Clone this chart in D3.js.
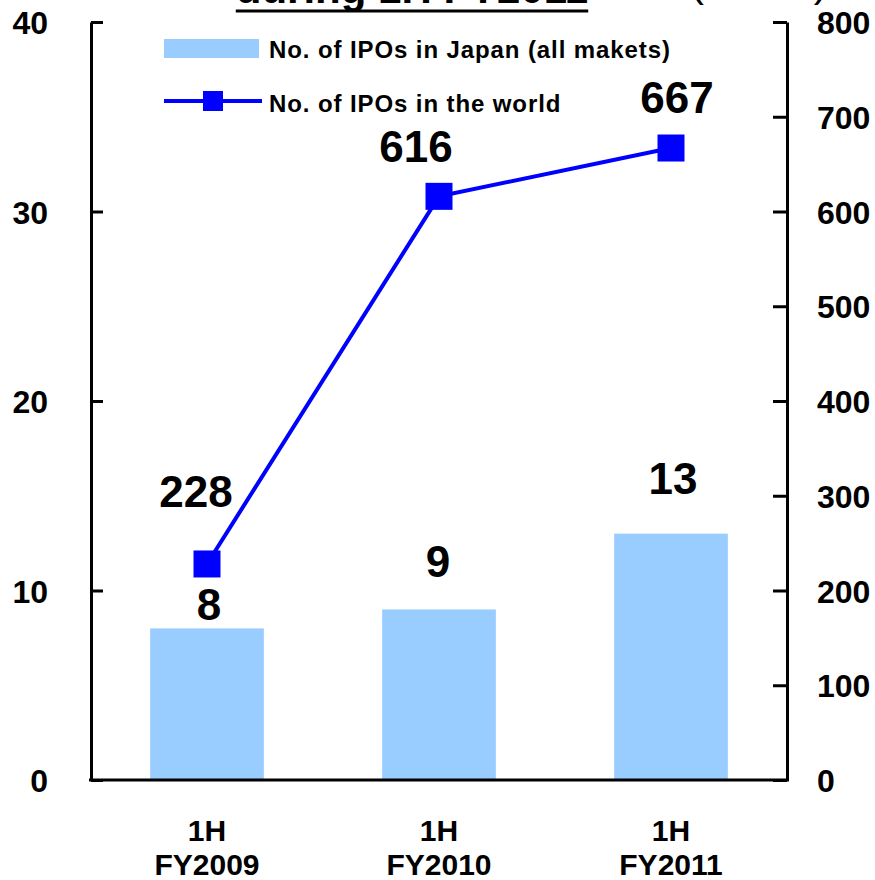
<!DOCTYPE html>
<html>
<head>
<meta charset="utf-8">
<script src="https://cdn.jsdelivr.net/npm/d3@7"></script>
<style>
  html, body { margin: 0; padding: 0; background: #fff; }
  svg { display: block; font-family: "Liberation Sans", Arial, sans-serif; font-weight: bold; }
</style>
</head>
<body>
<svg id="chart" width="875" height="880"></svg>
<script>
// Half-year periods and IPO counts
const periods = ["1H\nFY2009", "1H\nFY2010", "1H\nFY2011"];
const japanIPOs = [8, 9, 13];
const worldIPOs = [228, 616, 667];
const leftTicks = [0, 10, 20, 30, 40];
const rightTicks = [0, 100, 200, 300, 400, 500, 600, 700, 800];
const seriesNames = ["No. of IPOs in Japan (all makets)", "No. of IPOs in the world"];

// Label placement tweaks (pixels, relative to the mark)
const barLabelNudge = [[2, -8], [-1, -32], [2, -40]];
const lineLabelNudge = [[-11, -57], [-23, -34], [6, -35]];

const svg = d3.select("#chart");
const plot = { left: 91, right: 787, top: 22, bottom: 780 };

const x = d3.scaleBand().domain(periods).range([plot.left, plot.right]).paddingInner(0.51).paddingOuter(0.255);
const yL = d3.scaleLinear().domain([0, 40]).range([plot.bottom, plot.top]);
const yR = d3.scaleLinear().domain([0, 800]).range([plot.bottom, plot.top]);

// Title (runs off the top edge)
const title = svg.append("text").attr("x", 412).attr("y", 3).attr("text-anchor", "middle")
  .attr("font-size", 42).text("during 1H FY2011");
const tb = title.node().getBBox();
svg.append("line").attr("x1", tb.x).attr("x2", tb.x + tb.width).attr("y1", 11).attr("y2", 11)
  .attr("stroke", "#000").attr("stroke-width", 3);
svg.append("text").attr("x", 690).attr("y", -4).attr("font-size", 42).attr("font-weight", "normal").text("(cases)");

// Bars
svg.append("g").selectAll("rect").data(japanIPOs).join("rect")
  .attr("x", (d, i) => x(periods[i]))
  .attr("width", x.bandwidth())
  .attr("y", d => yL(d))
  .attr("height", d => yL(0) - yL(d))
  .attr("fill", "#99CCFF");

// Axes
function styleAxis(g) {
  g.selectAll("path.domain, line").attr("stroke", "#000").attr("stroke-width", 3);
  g.selectAll("text").attr("fill", "#000").attr("font-size", 32).attr("font-weight", "bold")
    .attr("font-family", "Liberation Sans, Arial, sans-serif");
}
svg.append("g").attr("transform", `translate(${plot.left},0)`)
  .call(d3.axisLeft(yL).tickValues(leftTicks).tickSize(-12).tickSizeOuter(0).tickPadding(43))
  .call(styleAxis).selectAll("text").attr("dy", "0.36em");
svg.append("g").attr("transform", `translate(${plot.right},0)`)
  .call(d3.axisRight(yR).tickValues(rightTicks).tickSize(-14).tickSizeOuter(0).tickPadding(30))
  .call(styleAxis).selectAll("text").attr("dy", "0.36em");
const xAxis = svg.append("g").attr("transform", `translate(0,${plot.bottom})`)
  .call(d3.axisBottom(x).tickSize(0).tickSizeOuter(0).tickPadding(0))
  .call(styleAxis);
xAxis.select("path.domain").attr("d", `M${plot.left - 2},0H${plot.right + 2}`);
xAxis.selectAll("text").attr("font-size", 30).attr("y", 0).attr("dy", null).text(null)
  .each(function (d) {
    const t = d3.select(this);
    d.split("\n").forEach((s, k) => t.append("tspan").attr("x", 0).attr("y", 61 + k * 34).text(s));
  });

// World IPO line with square markers
const cx = i => x(periods[i]) + x.bandwidth() / 2;
const line = d3.line().x((d, i) => cx(i)).y(d => yR(d));
svg.append("path").datum(worldIPOs).attr("d", line).attr("fill", "none")
  .attr("stroke", "#0000FF").attr("stroke-width", 4);
svg.append("g").selectAll("rect").data(worldIPOs).join("rect")
  .attr("x", (d, i) => cx(i) - 13.5).attr("y", d => yR(d) - 13.5)
  .attr("width", 27).attr("height", 27).attr("fill", "#0000FF");

// Value labels
svg.append("g").selectAll("text").data(japanIPOs).join("text")
  .attr("x", (d, i) => cx(i) + barLabelNudge[i][0])
  .attr("y", (d, i) => yL(d) + barLabelNudge[i][1])
  .attr("text-anchor", "middle").attr("font-size", 44).text(d => d);
svg.append("g").selectAll("text").data(worldIPOs).join("text")
  .attr("x", (d, i) => cx(i) + lineLabelNudge[i][0])
  .attr("y", (d, i) => yR(d) + lineLabelNudge[i][1])
  .attr("text-anchor", "middle").attr("font-size", 44).text(d => d);

// Legend
const lg = svg.append("g");
lg.append("rect").attr("x", 164).attr("y", 39).attr("width", 95).attr("height", 19).attr("fill", "#99CCFF");
lg.append("text").attr("x", 269).attr("y", 58).attr("font-size", 24).attr("letter-spacing", 0.9).text(seriesNames[0]);
lg.append("line").attr("x1", 164).attr("x2", 262).attr("y1", 101).attr("y2", 101)
  .attr("stroke", "#0000FF").attr("stroke-width", 4);
lg.append("rect").attr("x", 203).attr("y", 91).attr("width", 20).attr("height", 20).attr("fill", "#0000FF");
lg.append("text").attr("x", 269).attr("y", 112).attr("font-size", 24).attr("letter-spacing", 0.9).text(seriesNames[1]);
</script>
</body>
</html>
